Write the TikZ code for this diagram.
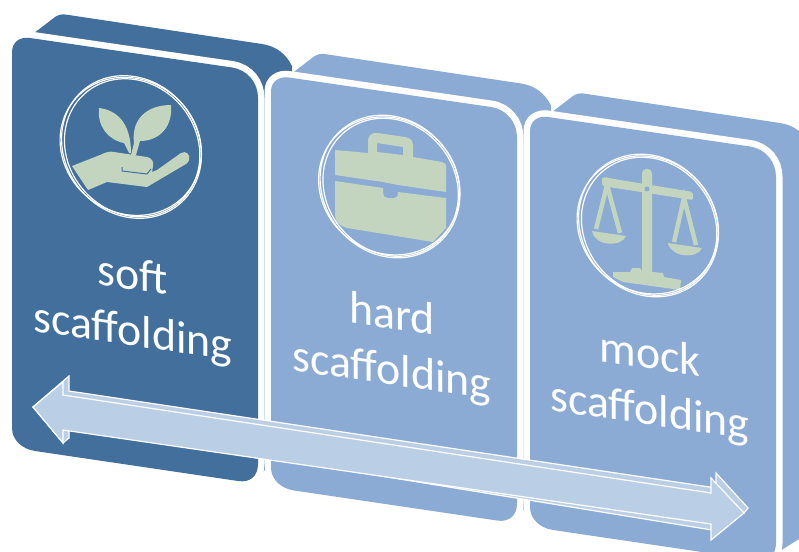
\documentclass[tikz,border=0pt]{standalone}
\usepackage{fontspec}
\setmainfont{Carlito}
\definecolor{darkcard}{HTML}{426F9C}
\definecolor{lightcard}{HTML}{8BABD5}
\definecolor{arrowfill}{HTML}{BACEE6}
\definecolor{iconfill}{HTML}{C3D5BF}
\newcommand\cardbox[3]{%
  \begin{scope}[shift={(#1,#2)}]
    \fill[#3] (12,50) -- (55,17) .. controls (59,14.5) and (62,14) .. (66,14.6)
      -- (262,44) .. controls (276,46) and (286,54) .. (292,66)
      -- (292,453) -- (262,472) -- (12,440) -- cycle;
    \path[fill=#3,preaction={draw=white,line width=13pt}]
      (30,38) -- (232,67.5) .. controls (248,70) and (258,83) .. (258,98)
      -- (258,464) .. controls (258,476) and (250,483) .. (238,481)
      -- (35,451) .. controls (22,449) and (12,440) .. (12,428)
      -- (12,52) .. controls (12,42) and (20,36.5) .. (30,38) -- cycle;
  \end{scope}}
\newcommand\ringpair[2]{%
  \begin{scope}[shift={(#1,#2)}]
    \draw[ringline,rotate=-50] (0,0) ellipse[x radius=74.5,y radius=66.5];
    \draw[ringline,rotate=-38] (-1,0) ellipse[x radius=73,y radius=66.5];
    \draw[ringline,rotate=-50] (1,0) ellipse[x radius=72,y radius=64.5];
  \end{scope}}
\tikzset{
  ringline/.style={draw=white,line width=1.2pt},
  icon/.style={fill=iconfill,draw=none},
  label/.style={text=white,font=\fontsize{45.8}{56}\selectfont,align=center,inner sep=0pt,yslant=-0.146},
  arrowpart/.style={fill=arrowfill,draw=white,line width=1.2pt,line join=miter}
}
\begin{document}
\begin{tikzpicture}[x=1pt,y=-1pt]
\useasboundingbox (0,0) rectangle (799,551);
\clip (0,0) rectangle (799,551);
\cardbox{0}{0}{darkcard}
\cardbox{259}{39.5}{lightcard}
\cardbox{518}{79}{lightcard}

% plant in hand
\fill[icon] (131,153) .. controls (131,122) and (116,110) .. (99,108)
  .. controls (97,126) and (108,140) .. (124,143) -- (129,153) -- cycle;
\fill[icon] (131,155) -- (134,143) .. controls (131,118) and (148,105) .. (171,105)
  .. controls (173,126) and (160,141) .. (140,141) -- (136,155) -- cycle;
\fill[icon] (72,166) -- (100,155) .. controls (106,152) and (110,151) .. (114,152)
  -- (147,157) .. controls (152,158) and (154,162) .. (153,166) -- (152,172) -- (157,170)
  -- (181,153) .. controls (186,150) and (191,155) .. (189,160) .. controls (188,162) and (188,163) .. (186,164)
  -- (147,187) -- (107,182) -- (88,190) -- cycle;
\draw[darkcard,line width=1pt] (122,167) -- (122,171) -- (147,174) -- (151,169);

% briefcase
\fill[icon,even odd rule] (335,150) -- (368,153) -- (368,142)
  .. controls (368,135) and (372,132) .. (378,133) -- (405,137)
  .. controls (411,138) and (413,141) .. (413,146) -- (413,157)
  -- (442,162) .. controls (445,163) and (446,164) .. (446,166) -- (446,192)
  -- (398,185) -- (383,182) -- (335,175) -- cycle
  (377,143) -- (403,147) -- (403,155) -- (377,152) -- cycle;
\fill[icon] (335,181) -- (383,188) -- (383,193) .. controls (383,196) and (385,198) .. (388,198)
  -- (394,198) .. controls (397,198) and (398,196) .. (398,192) -- (446,198)
  -- (446,228) -- (433,242) -- (347,228) .. controls (340,226) and (335,222) .. (335,215) -- cycle;

% scales
\fill[icon,rounded corners=2pt] (602,177) -- (693,192) -- (693,200) -- (602,186) -- cycle;
\fill[icon] (642,272) -- (642,174) .. controls (642,167) and (652,167) .. (652,174) -- (652,272) -- cycle;
\fill[lightcard] (647,189) circle[radius=2.5];
\draw[iconfill,line width=4.5pt] (596,229) -- (607,185) -- (620,233);
\draw[iconfill,line width=4.5pt] (674,242) -- (684,198) -- (696,245);
\fill[icon] (592,231) -- (626,236) .. controls (622,247) and (595,247) .. (592,231) -- cycle;
\fill[icon] (668,243) -- (702,248) .. controls (698,259) and (671,258) .. (668,243) -- cycle;
\fill[icon] (613,272) -- (630,272) -- (632,268) -- (640,268) -- (642,271) -- (663,273)
  -- (664,277) -- (681,280) -- (680,290) -- (623,282) -- (613,277) -- cycle;

\ringpair{131.5}{147}
\ringpair{390}{186.5}
\ringpair{648.5}{225.5}

\node[label] (soft) at (133,306) {soft\\scaffolding};
\node[label] (hard) at (392,345) {hard\\scaffolding};
\node[label] (mock) at (650,385) {mock\\scaffolding};

% double arrow
\path[arrowpart] (33,407) -- (69,376) -- (69,391) -- (716,488) -- (716,473)
  -- (748,508) -- (744,513) -- (712,530) -- (69,425) -- (69,438) -- (63,443) -- cycle;
\path[arrowpart] (33,407) -- (63,382) -- (63,395) -- (711,493) -- (711,478)
  -- (744,513) -- (711,540) -- (711,524) -- (63,430) -- (63,443) -- cycle;
\end{tikzpicture}
\end{document}
